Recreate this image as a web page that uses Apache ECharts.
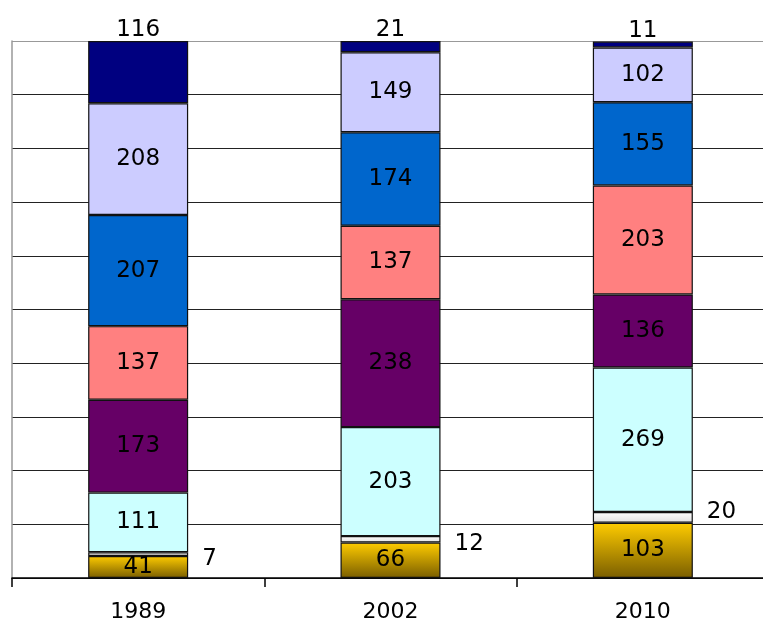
<!DOCTYPE html>
<html><head><meta charset="utf-8">
<script src="https://cdn.jsdelivr.net/npm/echarts@6/dist/echarts.min.js"></script>
<style>html,body{margin:0;padding:0;background:#fff;overflow:hidden}#c{width:770px;height:627px}</style>
</head><body><div id="c"></div>
<script>
const categories = ['1989', '2002', '2010'];
const sGold = [41, 66, 103];
const sWhite = [7, 12, 20];
const sCyan = [111, 203, 269];
const sPurple = [173, 238, 136];
const sSalmon = [137, 137, 203];
const sBlue = [207, 174, 155];
const sLavender = [208, 149, 102];
const sNavy = [116, 21, 11];

const FONT = 'DejaVu Sans';
const LBL = {show: true, position: 'inside', color: '#000', fontFamily: FONT, fontSize: 23};
function grad(a, b) {
  return new echarts.graphic.LinearGradient(0, 0, 0, 1, [{offset: 0, color: a}, {offset: 1, color: b}]);
}
function mk(name, data, color, label) {
  return {
    name, type: 'bar', stack: 'all', data, barWidth: 100,
    itemStyle: {color, borderColor: '#111', borderWidth: 1.2},
    label: label || LBL,
    emphasis: {disabled: true}
  };
}
const whiteOffsets = [[0, 5], [0, 5], [0, -5]];
const whiteData = sWhite.map((v, i) => ({value: v, label: {offset: whiteOffsets[i]}}));
const chart = echarts.init(document.getElementById('c'));
const gridColors = ['#222','#222','#222','#222','#222','#222','#222','#222','#222','#222','#999'];
chart.setOption({
  animation: false,
  grid: {left: 12, top: 41, right: 1, bottom: 49},
  xAxis: {
    type: 'category', data: categories,
    axisLine: {lineStyle: {color: '#000', width: 1.5}},
    axisTick: {show: true, length: 9, lineStyle: {color: '#000', width: 1.5}},
    axisLabel: {color: '#000', fontFamily: FONT, fontSize: 22, margin: 23}
  },
  yAxis: {
    type: 'value', min: 0, max: 1000, interval: 100,
    axisLine: {show: true, lineStyle: {color: '#999', width: 1.5}},
    axisTick: {show: false}, axisLabel: {show: false},
    splitLine: {show: true, lineStyle: {color: gridColors, width: 1.2}}
  },
  series: [
    mk('gold', sGold, grad('#FFCC00', '#7A5E00')),
    mk('white', whiteData, grad('#FFFFFF', '#E0E0E0'), Object.assign({}, LBL, {position: 'right', distance: 14})),
    mk('cyan', sCyan, '#CCFFFF'),
    mk('purple', sPurple, '#660066'),
    mk('salmon', sSalmon, '#FF8080'),
    mk('blue', sBlue, '#0066CC'),
    mk('lavender', sLavender, '#CCCCFF'),
    mk('navy', sNavy, '#000080', Object.assign({}, LBL, {position: 'top', distance: -1}))
  ]
});
</script></body></html>
